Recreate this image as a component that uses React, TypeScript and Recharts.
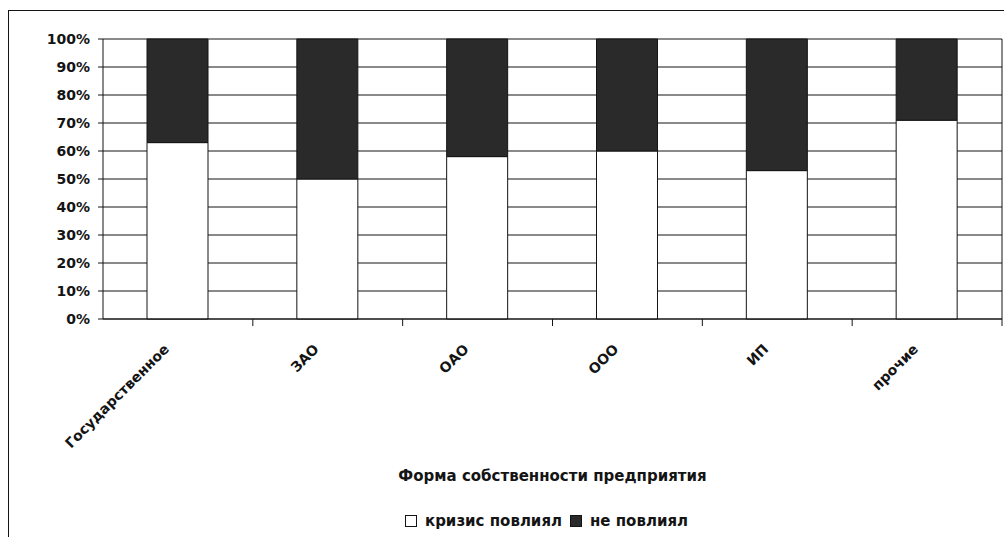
import { BarChart, Bar, XAxis, YAxis, CartesianGrid, Legend } from "recharts";

const categories = ["Государственное", "ЗАО", "ОАО", "ООО", "ИП", "прочие"];
const affected = [63, 50, 58, 60, 53, 71];
const notAffected = [37, 50, 42, 40, 47, 29];
const yTicks = [0, 10, 20, 30, 40, 50, 60, 70, 80, 90, 100];
const seriesNames = ["кризис повлиял", "не повлиял"];
const axisTitle = "Форма собственности предприятия";

const W = 1004;
const H = 537;
const M = { top: 39, right: 2, left: 0, bottom: 0 };
const Y_W = 103;
const INK = "#141414";
const DARK = "#2a2a2a";
const FONT = "'DejaVu Sans', Verdana, sans-serif";

const data = categories.map((name, i) => ({ name, a: affected[i], b: notAffected[i] }));
const band = (W - M.left - M.right - Y_W) / categories.length;

function XTick(props: any) {
  const { x, y, payload } = props;
  const ax = x - 8;
  const ay = y + 23;
  return (
    <g>
      <line x1={x + band / 2} x2={x + band / 2} y1={y - 8} y2={y - 1} stroke={INK} />
      <text
        x={ax}
        y={ay}
        transform={`rotate(-45, ${ax}, ${ay})`}
        textAnchor="end"
        fontSize={14}
        fontWeight="bold"
        fontFamily={FONT}
        fill={INK}
      >
        {payload.value}
      </text>
    </g>
  );
}

function Bottom() {
  return (
    <div style={{ height: 70, paddingLeft: Y_W, fontFamily: FONT, color: INK, fontWeight: "bold" }}>
      <div style={{ textAlign: "center", fontSize: 15, lineHeight: "16px", paddingTop: 1 }}>{axisTitle}</div>
      <div style={{ display: "flex", justifyContent: "center", alignItems: "center", marginTop: 28, fontSize: 15, marginLeft: -12 }}>
        <span style={{ width: 10, height: 10, border: `1px solid ${INK}`, background: "#fff", marginRight: 8 }} />
        <span style={{ marginRight: 8 }}>{seriesNames[0]}</span>
        <span style={{ width: 10, height: 10, border: `1px solid ${INK}`, background: DARK, marginRight: 8 }} />
        <span>{seriesNames[1]}</span>
      </div>
    </div>
  );
}

export default function App() {
  return (
    <div style={{ position: "fixed", left: 0, top: 0, width: W, height: H, background: "#fff", overflow: "hidden" }}>
      <div style={{ position: "absolute", left: 8, top: 10, width: 1100, height: 600, borderLeft: `1px solid ${INK}`, borderTop: `1px solid ${INK}` }} />
      <div style={{ position: "absolute", left: 0, top: 0 }}>
        <BarChart width={W} height={H} data={data} margin={M} barSize={61}>
          <CartesianGrid
            stroke={INK}
            strokeOpacity={1}
            verticalCoordinatesGenerator={({ offset }: any) => [offset.left + offset.width]}
          />
          <XAxis
            dataKey="name"
            interval={0}
            height={148}
            tick={<XTick />}
            tickLine={false}
            axisLine={{ stroke: INK }}
          />
          <YAxis
            width={Y_W}
            domain={[0, 100]}
            ticks={yTicks}
            interval={0}
            tickFormatter={(v: number) => v + "%"}
            tick={{ fontSize: 14, fontWeight: "bold", fill: INK, fontFamily: FONT }}
            tickSize={5}
            tickMargin={8}
            tickLine={{ stroke: INK }}
            axisLine={{ stroke: INK }}
          />
          <Legend verticalAlign="bottom" content={<Bottom />} />
          <Bar dataKey="a" name={seriesNames[0]} stackId="s" fill="#fff" stroke={INK} strokeWidth={1} isAnimationActive={false} />
          <Bar dataKey="b" name={seriesNames[1]} stackId="s" fill={DARK} stroke={INK} strokeWidth={1} isAnimationActive={false} />
        </BarChart>
      </div>
    </div>
  );
}
